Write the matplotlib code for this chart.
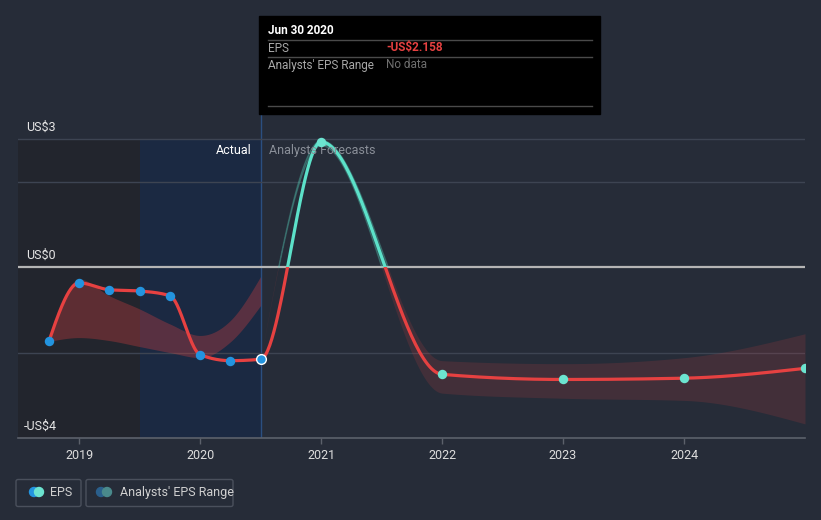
import numpy as np
import matplotlib.pyplot as plt
from matplotlib.patches import Rectangle, FancyBboxPatch, Circle
import matplotlib.transforms as mtransforms

plt.rcParams['font.family'] = ['Roboto', 'DejaVu Sans']

# EPS values (US$), dates as fractional years
eps_dates = [2018.75, 2019.0, 2019.25, 2019.5, 2019.75, 2020.0, 2020.25, 2020.5,
             2021.0, 2022.0, 2023.0, 2024.0, 2025.0]
eps_values = [-1.74, -0.37, -0.53, -0.56, -0.67, -2.05, -2.19, -2.158,
              2.93, -2.51, -2.63, -2.60, -2.37]
n_actual = 8

# analysts' range band around the actual period
act_band_dates = [2018.75, 2019.0, 2019.25, 2019.5, 2019.75, 2020.0, 2020.25, 2020.5]
act_band_low = [-1.74, -1.65, -1.72, -1.86, -2.00, -2.12, -1.75, -0.90]
act_band_high = [-1.74, -0.28, -0.67, -0.98, -1.33, -1.60, -1.25, -0.22]

# analysts' range band for the forecasts
fc_band_dates = [2020.5, 2021.0, 2022.0, 2023.0, 2024.0, 2025.0]
fc_band_low = [-2.158, 2.85, -2.95, -3.07, -3.12, -3.67]
fc_band_high = [-2.158, 2.98, -2.19, -2.26, -2.12, -1.56]

year_ticks = [2019, 2020, 2021, 2022, 2023, 2024]

BG = '#262c38'
RED = '#e64141'
TEAL = '#5ce1c9'
BLUE = '#2394df'


def monotone_x(x, y, n=60):
    """Monotone cubic curve (same idea as d3 curveMonotoneX)."""
    x = np.asarray(x, float)
    y = np.asarray(y, float)
    h = np.diff(x)
    s = np.diff(y) / h
    t = np.zeros(len(x))
    for i in range(1, len(x) - 1):
        p = (s[i - 1] * h[i] + s[i] * h[i - 1]) / (h[i - 1] + h[i])
        t[i] = (np.sign(s[i - 1]) + np.sign(s[i])) * min(abs(s[i - 1]), abs(s[i]), 0.5 * abs(p))
    t[0] = (3 * s[0] - t[1]) / 2
    t[-1] = (3 * s[-1] - t[-2]) / 2
    xs, ys = [], []
    for i in range(len(x) - 1):
        u = np.linspace(0, 1, n)
        h00 = 2 * u**3 - 3 * u**2 + 1
        h10 = u**3 - 2 * u**2 + u
        h01 = -2 * u**3 + 3 * u**2
        h11 = u**3 - u**2
        xs.append(x[i] + u * h[i])
        ys.append(h00 * y[i] + h10 * h[i] * t[i] + h01 * y[i + 1] + h11 * h[i] * t[i + 1])
    return np.concatenate(xs), np.concatenate(ys)


fig = plt.figure(figsize=(8.21, 5.2), dpi=100)
fig.patch.set_facecolor(BG)
ax = fig.add_axes([18 / 821, 82 / 520, 787 / 821, 323 / 520])
ax.set_facecolor(BG)
x0, x1 = 2018.495, 2025.0
ax.set_xlim(x0, x1)
ax.set_ylim(-4, 3.56)

# shaded past regions
ax.fill_between([x0, 2019.5], -4, 3, color='#22252d', zorder=0, lw=0)
ax.fill_between([2019.5, 2020.5], -4, 3, color='#1b2942', zorder=0, lw=0)
ax.axvline(2020.5, color='#2b4f80', lw=1, zorder=1)

# grid
for g in [3, 2, -2]:
    ax.axhline(g, color='#3d4452', lw=1, zorder=1)
ax.axhline(0, color='#b5b5b5', lw=1.6, zorder=2)

# bands
bx, bl = monotone_x(act_band_dates, act_band_low)
_, bh = monotone_x(act_band_dates, act_band_high)
ax.fill_between(bx, bl, bh, color=RED, alpha=0.3, lw=0, zorder=2)

fx, fl = monotone_x(fc_band_dates, fc_band_low)
_, fh = monotone_x(fc_band_dates, fc_band_high)
neg = ax.fill_between(fx, fl, fh, color=RED, alpha=0.15, lw=0, zorder=2)
neg.set_clip_path(Rectangle((x0, -10), x1 - x0, 10, transform=ax.transData))
pos = ax.fill_between(fx, fl, fh, color=TEAL, alpha=0.25, lw=0.8, zorder=2)
pos.set_clip_path(Rectangle((x0, 0), x1 - x0, 10, transform=ax.transData))

# EPS line, red below zero and teal above
lx, ly = monotone_x(eps_dates, eps_values)
red_line, = ax.plot(lx, ly, color=RED, lw=2.3, zorder=3, solid_capstyle='round')
red_line.set_clip_path(Rectangle((x0, -10), x1 - x0, 10, transform=ax.transData))
teal_line, = ax.plot(lx, ly, color=TEAL, lw=2.3, zorder=3, solid_capstyle='round')
teal_line.set_clip_path(Rectangle((x0, 0), x1 - x0, 10, transform=ax.transData))

ax.plot(eps_dates[:n_actual - 1], eps_values[:n_actual - 1], 'o', color=BLUE, ms=6.8, mew=0, zorder=4)
ax.plot(eps_dates[n_actual - 1], eps_values[n_actual - 1], 'o', color=BLUE, ms=7, mec='white', mew=1, zorder=4)
ax.plot(eps_dates[n_actual:], eps_values[n_actual:], 'o', color='#6ce4d0', ms=6.8, mew=0, zorder=4)

# axes styling
for side in ['top', 'right', 'left']:
    ax.spines[side].set_visible(False)
ax.spines['bottom'].set_color('#5c616b')
ax.spines['bottom'].set_linewidth(1.2)
ax.set_yticks([])
ax.set_xticks(year_ticks)
ax.set_xticklabels([str(y) for y in year_ticks])
ax.tick_params(axis='x', colors='#5c616b', length=4, width=1, labelcolor='#dddddd', labelsize=9, pad=4)

# y labels
trans = mtransforms.blended_transform_factory(fig.transFigure, ax.transData)
for v, lab in [(3, 'US$3'), (0, 'US$0'), (-4, '-US$4')]:
    ax.annotate(lab, xy=(26 / 821 if v != -4 else 24 / 821, v), xycoords=trans,
                xytext=(0, 12), textcoords='offset pixels', ha='left', va='center',
                color='#e6e6e6', fontsize=9)

ax.annotate('Actual', xy=(2020.5, 2.72), xytext=(-9, 0), textcoords='offset pixels',
            ha='right', va='center', color='#ffffff', fontsize=9)
ax.annotate('Analysts Forecasts', xy=(2020.5, 2.72), xytext=(8, 0), textcoords='offset pixels',
            ha='left', va='center', color='#8a8f98', fontsize=9)

# overlay in pixel coordinates for tooltip and legend
ov = fig.add_axes([0, 0, 1, 1], facecolor='none')
ov.set_xlim(0, 821)
ov.set_ylim(520, 0)
ov.axis('off')

ov.add_patch(Rectangle((259, 16), 341, 98, color='black', zorder=5))
for yy in [40, 57, 106]:
    ov.plot([268, 592], [yy, yy], color='#4a4a4a', lw=1, zorder=6)
ov.text(268, 31, 'Jun 30 2020', color='white', fontsize=8.5, fontweight='bold', va='center', zorder=7)
ov.text(268, 48, 'EPS', color='#a8a8a8', fontsize=8.5, va='center', zorder=7)
ov.text(386, 48, '-US$2.158', color=RED, fontsize=8.5, fontweight='bold', va='center', zorder=7)
ov.text(268, 65, "Analysts' EPS Range", color='#a8a8a8', fontsize=8.5, va='center', zorder=7)
ov.text(386, 65, 'No data', color='#6f6f6f', fontsize=8.5, va='center', zorder=7)

# legend
ov.add_patch(FancyBboxPatch((16, 479.5), 65, 27, boxstyle='round,pad=0,rounding_size=2',
                            fc='none', ec='#4a505c', lw=1))
ov.add_patch(FancyBboxPatch((86, 479.5), 147, 27, boxstyle='round,pad=0,rounding_size=2',
                            fc='none', ec='#4a505c', lw=1))
ov.add_patch(Circle((34, 492), 4.5, color=BLUE))
ov.add_patch(Circle((39, 492), 4.5, color='#6ce4d0'))
ov.add_patch(Circle((101, 492), 4.5, color='#2a5f8c'))
ov.add_patch(Circle((107, 492), 4.5, color='#4a8a8c'))
ov.text(50, 492.5, 'EPS', color='#d0d0d0', fontsize=9, va='center')
ov.text(120, 492.5, "Analysts' EPS Range", color='#d0d0d0', fontsize=9, va='center')

fig.savefig('out.png', dpi=100, facecolor=BG)
